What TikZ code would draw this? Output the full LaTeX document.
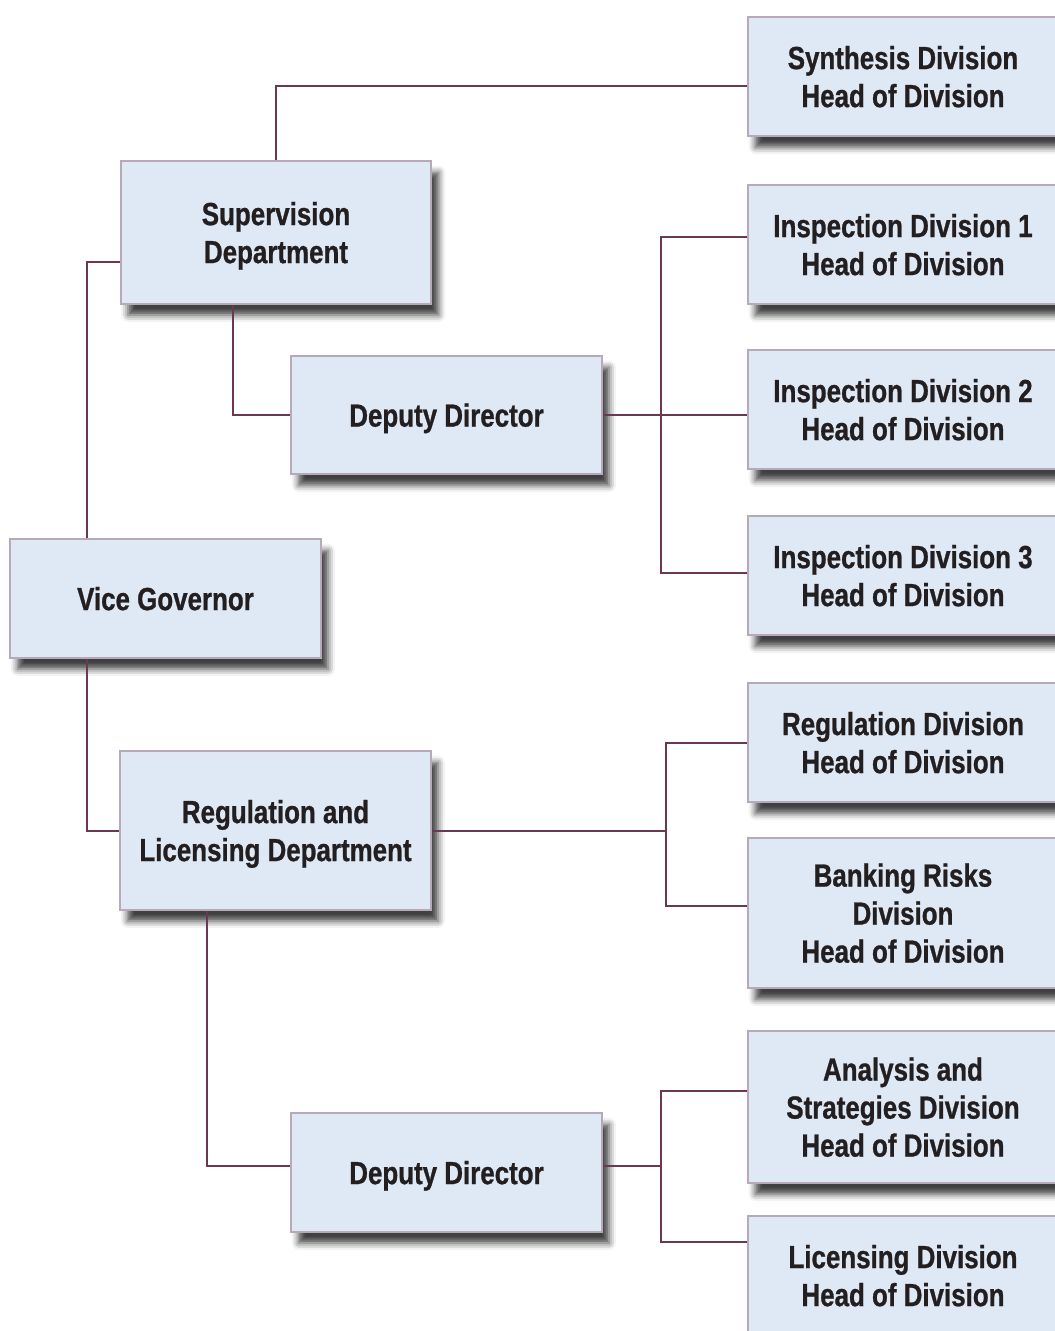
\documentclass[tikz,border=0pt]{standalone}
\usepackage{fontspec}
\newfontfamily\orgfont{Liberation Sans}[FakeStretch=0.81,FakeBold=0.8]
\usetikzlibrary{shadows.blur}
\definecolor{boxfill}{HTML}{DFE8F5}
\definecolor{boxline}{HTML}{B8A9B9}
\definecolor{linkcol}{HTML}{6A3850}
\definecolor{txtcol}{HTML}{231F20}
\begin{document}
\begin{tikzpicture}[x=0.75pt,y=-0.75pt,
  box/.style={draw=boxline,line width=1.3pt,fill=boxfill,rectangle,
    minimum width=233pt,align=center,text=txtcol,text depth=0pt,
    font=\orgfont\bfseries\fontsize{24pt}{28.5pt}\selectfont,
    blur shadow={shadow xshift=5.5pt,shadow yshift=-8.5pt,shadow blur radius=5pt,shadow opacity=75}},
  link/.style={draw=linkcol,line width=1.5pt}]
\useasboundingbox (0,0) rectangle (1055,1331);

% The left boxes
\node[box,minimum height=107pt] (sup) at (276,232.5) {Supervision\\Department};
\node[box,minimum height=88.5pt] (dep1) at (446.5,415) {Deputy Director};
\node[box,minimum height=89pt] (vice) at (165.5,598.5) {Vice Governor};
\node[box,minimum height=119pt] (reg) at (275.5,830.5) {Regulation and\\Licensing Department};
\node[box,minimum height=89pt] (dep2) at (446.5,1172.5) {Deputy Director};

% The divisions
\foreach \nm/\yy/\hh/\txt in {
  syn/76.5/119/{Synthesis Division\\Head of Division},
  ins1/244.5/119/{Inspection Division 1\\Head of Division},
  ins2/409.5/119/{Inspection Division 2\\Head of Division},
  ins3/575.5/119/{Inspection Division 3\\Head of Division},
  regd/742.5/119/{Regulation Division\\Head of Division},
  bank/913/150/{Banking Risks\\Division\\Head of Division},
  ana/1107/152/{Analysis and\\Strategies Division\\Head of Division},
  lic/1275.5/119/{Licensing Division\\Head of Division}}
{
	\node[box,minimum height=\hh*0.75pt,minimum width=232.5pt] (\nm) at (903,\yy) {\txt};
}

% The forks
\coordinate (forkA) at ([xshift=44pt]dep1.east);
\coordinate (forkB) at ([xshift=175.5pt]reg.east);
\coordinate (forkC) at ([xshift=44pt,yshift=5pt]dep2.east);

% Supervision side
\draw[link] (sup.north) |- ([yshift=-7pt]syn.west);
\draw[link] ([yshift=-22pt]sup.west) -| ([xshift=58pt]vice.north west);
\draw[link] ([xshift=85pt]sup.south west) |- (dep1.west);
\draw[link] (dep1.east) -- (dep1.east -| ins2.west);
\draw[link] (forkA) |- ([yshift=6pt]ins1.west);
\draw[link] (forkA) |- ([yshift=2pt]ins3.west);

% Regulation side
\draw[link] ([xshift=58pt]vice.south west) |- (reg.west);
\draw[link] (reg.east) -- (forkB);
\draw[link] (forkB) |- (regd.west);
\draw[link] (forkB) |- ([yshift=5pt]bank.west);
\draw[link] ([xshift=66pt]reg.south west) |- ([yshift=5pt]dep2.west);
\draw[link] ([yshift=5pt]dep2.east) -- (forkC);
\draw[link] (forkC) |- ([yshift=12pt]ana.west);
\draw[link] (forkC) |- ([yshift=25pt]lic.west);

\end{tikzpicture}
\end{document}
